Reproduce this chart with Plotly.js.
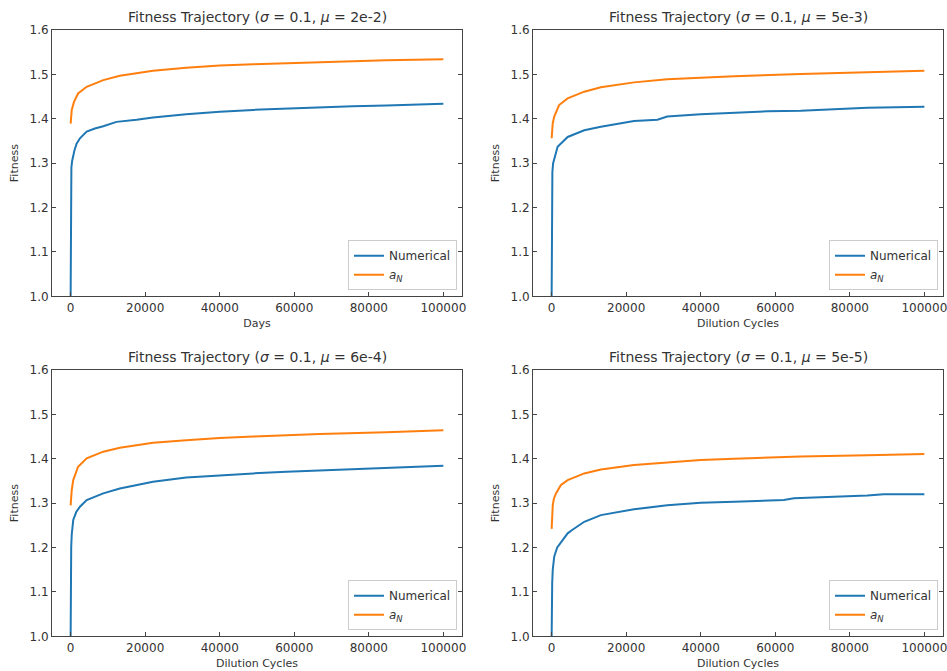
<!DOCTYPE html>
<html>
<head>
<meta charset="utf-8">
<script src="https://cdn.plot.ly/plotly-3.0.1.min.js"></script>
<style>html,body{margin:0;padding:0;background:#fff;}#chart{width:947px;height:671px;}</style>
</head>
<body>
<div id="chart"></div>
<script>
// ---- Data ----
const panelTitles = [
  'Fitness Trajectory (<i>σ</i> = 0.1, <i>μ</i> = 2e-2)',
  'Fitness Trajectory (<i>σ</i> = 0.1, <i>μ</i> = 5e-3)',
  'Fitness Trajectory (<i>σ</i> = 0.1, <i>μ</i> = 6e-4)',
  'Fitness Trajectory (<i>σ</i> = 0.1, <i>μ</i> = 5e-5)'
];
const xLabels = ['Days', 'Dilution Cycles', 'Dilution Cycles', 'Dilution Cycles'];
const seriesNames = ['Numerical', '<i>a</i><sub><i>N</i></sub>'];
const xTicks = [0, 20000, 40000, 60000, 80000, 100000];
const yTicks = [1.0, 1.1, 1.2, 1.3, 1.4, 1.5, 1.6];

// Panel 1 (mu = 2e-2)
const x1Num = [0, 20, 50, 100, 200, 400, 700, 1000, 1600, 2500, 4300, 6500, 8750, 12300, 17700, 22100, 31000, 40000, 49000, 57900, 66800, 75700, 84700, 100000];
const y1Num = [1.0, 1.10, 1.20, 1.26, 1.29, 1.305, 1.318, 1.328, 1.344, 1.356, 1.371, 1.378, 1.383, 1.393, 1.398, 1.403, 1.410, 1.416, 1.420, 1.423, 1.426, 1.428, 1.430, 1.434];
const x1A = [0, 300, 900, 2000, 4300, 8750, 13200, 22100, 31000, 40000, 49000, 66800, 84700, 100000];
const y1A = [1.389, 1.42, 1.438, 1.457, 1.472, 1.487, 1.497, 1.508, 1.515, 1.520, 1.523, 1.528, 1.532, 1.534];

// Panel 2 (mu = 5e-3)
const x2Num = [0, 20, 50, 100, 200, 400, 700, 1600, 4300, 8750, 13200, 17700, 22100, 28400, 31000, 40000, 49000, 57900, 66800, 75700, 84700, 100000];
const y2Num = [1.0, 1.10, 1.20, 1.25, 1.28, 1.30, 1.311, 1.337, 1.359, 1.374, 1.382, 1.388, 1.395, 1.398, 1.405, 1.410, 1.414, 1.417, 1.418, 1.421, 1.425, 1.427];
const x2A = [0, 300, 700, 2000, 4300, 8750, 13200, 22100, 31000, 40000, 49000, 66800, 84700, 100000];
const y2A = [1.356, 1.39, 1.405, 1.431, 1.446, 1.461, 1.471, 1.482, 1.489, 1.493, 1.496, 1.501, 1.505, 1.508];

// Panel 3 (mu = 6e-4)
const x3Num = [0, 30, 80, 150, 300, 700, 1500, 2500, 4300, 8750, 13200, 17700, 22100, 31000, 40000, 49000, 57900, 66800, 75700, 84700, 100000];
const y3Num = [1.0, 1.08, 1.15, 1.20, 1.23, 1.262, 1.28, 1.292, 1.307, 1.322, 1.333, 1.341, 1.348, 1.358, 1.363, 1.367, 1.371, 1.374, 1.377, 1.380, 1.384];
const x3A = [0, 300, 700, 2000, 4300, 8750, 13200, 22100, 31000, 40000, 49000, 66800, 84700, 100000];
const y3A = [1.295, 1.33, 1.352, 1.382, 1.401, 1.416, 1.425, 1.436, 1.442, 1.447, 1.450, 1.456, 1.460, 1.464];

// Panel 4 (mu = 5e-5)
const x4Num = [0, 50, 150, 300, 700, 1500, 2700, 4300, 5400, 8750, 13200, 17700, 22100, 31000, 40000, 49000, 57900, 62300, 65000, 75700, 84700, 89100, 100000];
const y4Num = [1.0, 1.08, 1.12, 1.15, 1.18, 1.20, 1.215, 1.232, 1.239, 1.258, 1.273, 1.280, 1.286, 1.295, 1.301, 1.303, 1.305, 1.307, 1.311, 1.314, 1.317, 1.320, 1.320];
const x4A = [0, 100, 300, 600, 1160, 2500, 4300, 8750, 13200, 22100, 31000, 40000, 49000, 66800, 84700, 100000];
const y4A = [1.242, 1.27, 1.295, 1.31, 1.322, 1.341, 1.352, 1.367, 1.376, 1.386, 1.392, 1.397, 1.400, 1.405, 1.408, 1.411];

const numX = [x1Num, x2Num, x3Num, x4Num];
const numY = [y1Num, y2Num, y3Num, y4Num];
const aX = [x1A, x2A, x3A, x4A];
const aY = [y1A, y2A, y3A, y4A];

// ---- Layout ----
const W = 947, H = 671;
const colPx = [[52, 462], [533, 943]];
const rowPx = [[30, 296.3], [370, 636.3]];
const FONT = 'DejaVu Sans, Verdana, sans-serif';
const blue = '#1f77b4', orange = '#ff7f0e';

const traces = [];
const layout = {
  width: W, height: H,
  margin: {l: 0, r: 0, t: 0, b: 0},
  paper_bgcolor: '#fff', plot_bgcolor: '#fff',
  font: {family: FONT, size: 12, color: '#333'},
  showlegend: true,
  annotations: []
};

for (let i = 0; i < 4; i++) {
  const col = i % 2, row = Math.floor(i / 2);
  const sfx = i === 0 ? '' : String(i + 1);
  const xa = 'x' + sfx, ya = 'y' + sfx;
  const lg = 'legend' + sfx;
  traces.push({x: numX[i], y: numY[i], xaxis: xa, yaxis: ya, type: 'scatter', mode: 'lines',
    name: seriesNames[0], legend: lg, line: {color: blue, width: 2}});
  traces.push({x: aX[i], y: aY[i], xaxis: xa, yaxis: ya, type: 'scatter', mode: 'lines',
    name: seriesNames[1], legend: lg, line: {color: orange, width: 2}});

  const xd = [colPx[col][0] / W, colPx[col][1] / W];
  const yd = [1 - rowPx[row][1] / H, 1 - rowPx[row][0] / H];
  const axCommon = {
    showgrid: false, zeroline: false, showline: true, linecolor: '#444', linewidth: 1,
    ticks: 'inside', ticklen: 4, tickwidth: 1, tickcolor: '#444',
    ticklabeloverflow: 'allow',
    tickfont: {family: FONT, size: 12, color: '#333'}
  };
  layout['xaxis' + sfx] = Object.assign({}, axCommon, {
    domain: xd, anchor: ya, range: [-5000, 105000], tickmode: 'array', tickvals: xTicks,
    ticktext: xTicks.map(String), mirror: true,
    title: {text: xLabels[i], font: {family: FONT, size: 11, color: '#333'}, standoff: 5}
  });
  layout['yaxis' + sfx] = Object.assign({}, axCommon, {
    domain: yd, anchor: xa, range: [1.0, 1.6], tickmode: 'array', tickvals: yTicks,
    ticktext: yTicks.map(v => v.toFixed(1)), mirror: 'ticks',
    title: {text: 'Fitness', font: {family: FONT, size: 11, color: '#333'}, standoff: 8}
  });
  layout[lg] = {
    x: (colPx[col][1] - 5) / W, xanchor: 'right',
    y: 1 - (rowPx[row][1] - 6) / H, yanchor: 'bottom',
    bgcolor: 'rgba(255,255,255,0.8)', bordercolor: '#ccc', borderwidth: 1,
    font: {family: FONT, size: 12, color: '#333'},
    tracegroupgap: 0, itemwidth: 30
  };
  layout.annotations.push({
    text: panelTitles[i], xref: 'paper', yref: 'paper',
    x: (xd[0] + xd[1]) / 2, y: yd[1], xanchor: 'center', yanchor: 'bottom', yshift: 3,
    showarrow: false, font: {family: FONT, size: 14, color: '#333'}
  });
}

Plotly.newPlot('chart', traces, layout, {staticPlot: true, displayModeBar: false});
</script>
</body>
</html>
